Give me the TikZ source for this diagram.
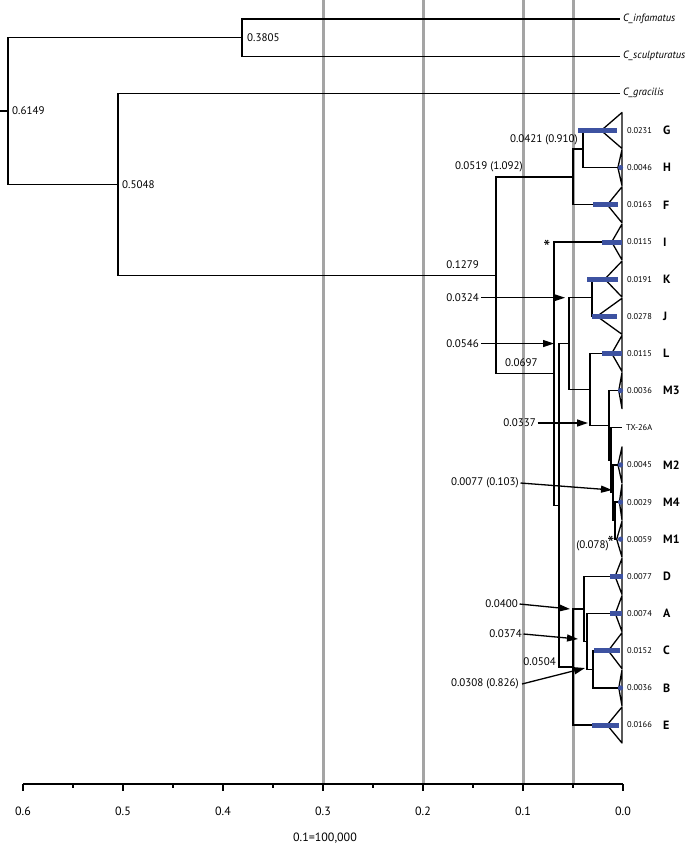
\documentclass[tikz,border=0pt]{standalone}
\usepackage{fontspec}
\setmainfont{PT Sans}
\usetikzlibrary{arrows.meta}
\definecolor{hpd}{HTML}{3D52A1}
\definecolor{gridgray}{HTML}{A4A4A4}
\begin{document}
\begin{tikzpicture}[x=1pt,y=-1pt,
  branch/.style={line width=1.3pt, black},
  pointer/.style={line width=1.3pt, black, -{Triangle[length=11pt,width=7pt]}},
  gridline/.style={line width=3pt, gridgray},
  hpdbar/.style={line width=5pt, hpd},
  tipval/.style={anchor=west, inner sep=0pt, font=\fontsize{8.4}{10}\selectfont},
  tiplet/.style={anchor=west, inner sep=0pt, font=\fontsize{12}{14}\selectfont\bfseries},
  intlab/.style={inner sep=0pt, font=\fontsize{11}{13}\selectfont},
  starlab/.style={inner sep=0pt, font=\fontsize{20}{22}\selectfont},
  sp/.style={anchor=west, inner sep=0pt, font=\fontsize{10.5}{12}\selectfont\itshape},
  axlab/.style={inner sep=0pt, font=\fontsize{12}{14}\selectfont}]
\useasboundingbox (0,0) rectangle (689,844);

% grey reference lines
\foreach \gx in {323,423,523,573} {
  \draw[gridline] (\gx,0) -- (\gx,784);
}

% axis
\coordinate (axL) at (23,784);
\coordinate (axR) at (623,784);
\draw[branch] (axL) -- (axR);
\foreach \tx/\tl in {23/0.6,123/0.5,223/0.4,323/0.3,423/0.2,523/0.1,623/0.0} {
  \draw[branch] (\tx,784) -- (\tx,791);
  \node[axlab] (ax\tl) at (\tx,811) {\tl};
}
\foreach \tx in {73,173,273,373,473,573} {
  \draw[branch] (\tx,784) -- (\tx,788);
}
\node[axlab] (scale) at (325,838) {0.1=100,000};

% internal nodes
\coordinate (rootstub) at (0,110.95);
\coordinate (root) at (8,110.95);
\coordinate (n3805) at (242,37.6);
\coordinate (n5048) at (118,184.3);
\coordinate (n1279) at (496,275.3);
\coordinate (n0519) at (573,176.95);
\coordinate (n0421) at (583,149.05);
\coordinate (n0697) at (554,373.6);
\coordinate (n064) at (559,505.25);
\coordinate (n0546) at (569,343.55);
\coordinate (nKJ) at (592,297.7);
\coordinate (n0337) at (590,389.4);
\coordinate (nM) at (609,425.45);
\coordinate (nTX) at (611,460.3);
\coordinate (nM2) at (613,492.8);
\coordinate (nM41) at (615,520.65);
\coordinate (n0504) at (573,666.95);
\coordinate (nD) at (584,608.9);
\coordinate (nA) at (587,641.45);
\coordinate (nCB) at (593,669.3);

% species tips
\coordinate (sInf) at (620,19);
\coordinate (sScul) at (620,56.2);
\coordinate (sGrac) at (620,93.3);
\coordinate (sTX) at (622,427.8);
\node[sp] (lInf) at (623,19) {C\_infamatus};
\node[sp] (lScul) at (623,56.2) {C\_sculpturatus};
\node[sp] (lGrac) at (623,93.3) {C\_gracilis};
\node[tipval] (lTX) at (626,427.8) {TX-26A};

% collapsed clades
\foreach \n/\ax/\y/\v in {G/601.2/130.5/0.0231, H/617.9/167.6/0.0046, F/607.3/204.8/0.0163,
  I/611.7/242/0.0115, K/604.8/279.1/0.0191, J/597/316.3/0.0278, L/611.7/353.4/0.0115,
  M3/618.8/390.6/0.0036, M2/618/464.9/0.0045, M4/619.4/502.1/0.0029, M1/616.7/539.2/0.0059,
  D/615.1/576.4/0.0077, A/615.3/613.6/0.0074, C/608.3/650.7/0.0152, B/618.8/687.9/0.0036,
  E/607.1/725/0.0166} {
  \coordinate (t\n) at (\ax,\y);
  \draw[branch, line join=round] (t\n) -- (622,\y-18) -- (622,\y+18) -- cycle;
  \node[tipval] (v\n) at (627,\y) {\v};
  \node[tiplet] (L\n) at (663,\y) {\n};
}

% branches
\draw[branch] (rootstub) -- (root);
\draw[branch] (root) |- (n3805) (root) |- (n5048);
\draw[branch] (n3805) |- (sInf) (n3805) |- (sScul);
\draw[branch] (n5048) |- (sGrac) (n5048) |- (n1279);
\draw[branch] (n1279) |- (n0519) (n1279) |- (n0697);
\draw[branch] (n0519) |- (n0421) (n0519) |- (tF);
\draw[branch] (n0421) |- (tG) (n0421) |- (tH);
\draw[branch] (n0697) |- (tI) (n0697) |- (n064);
\draw[branch] (n064) |- (n0546) (n064) |- (n0504);
\draw[branch] (n0546) |- (nKJ) (n0546) |- (n0337);
\draw[branch] (nKJ) |- (tK) (nKJ) |- (tJ);
\draw[branch] (n0337) |- (tL) (n0337) |- (nM);
\draw[branch] (nM) |- (tM3) (nM) |- (nTX);
\draw[branch] (nTX) |- (sTX) (nTX) |- (nM2);
\draw[branch] (nM2) |- (tM2) (nM2) |- (nM41);
\draw[branch] (nM41) |- (tM4) (nM41) |- (tM1);
\draw[branch] (n0504) |- (nD) (n0504) |- (tE);
\draw[branch] (nD) |- (tD) (nD) |- (nA);
\draw[branch] (nA) |- (tA) (nA) |- (nCB);
\draw[branch] (nCB) |- (tC) (nCB) |- (tB);

% HPD bars
\foreach \n/\xa/\xb in {G/578/617, F/593/618, I/602/622, K/587/618, J/592/617, L/602/622,
  D/610/623, A/610/622, C/594/620, E/592/619} {
  \draw[hpdbar] (\xa,0 |- t\n) -- (\xb,0 |- t\n);
}
\foreach \n in {H,M3,M2,M4,M1,B} {
  \fill[hpd] (620.5,0 |- t\n) circle (2.6);
}

% node labels
\node[intlab, anchor=west] (l6149) at (12,110.95) {0.6149};
\node[intlab, anchor=west] (l3805) at (247,37.6) {0.3805};
\node[intlab, anchor=west] (l5048) at (122,184.3) {0.5048};
\node[intlab, anchor=east] (l0421) at (578,140) {0.0421 (0.910)};
\node[intlab, anchor=east] (l0519) at (523,167) {0.0519 (1.092)};
\node[intlab, anchor=east] (l1279) at (479,265) {0.1279};
\node[intlab, anchor=west] (l0697) at (505,363) {0.0697};
\node[intlab, anchor=east] (l0504) at (556,662) {0.0504};
\node[starlab] (starI) at (547,247) {*};
\node[starlab] (starM1) at (611,543) {*};
\node[intlab, anchor=east] (l0078) at (609,546) {(0.078)};

% pointer labels
\node[intlab, anchor=east] (l0324) at (479,297.7) {0.0324};
\node[intlab, anchor=east] (l0546) at (479,343.55) {0.0546};
\node[intlab, anchor=east] (l0337) at (536,423) {0.0337};
\node[intlab, anchor=east] (l0077) at (519,483) {0.0077 (0.103)};
\node[intlab, anchor=east] (l0400) at (518,604) {0.0400};
\node[intlab, anchor=east] (l0374) at (522,634) {0.0374};
\node[intlab, anchor=east] (l0308) at (519,684) {0.0308 (0.826)};
\coordinate (e0324) at (565,297.7);
\coordinate (e0546) at (554,343.55);
\coordinate (e0337) at (588,423);
\coordinate (e0077) at (612,490);
\coordinate (e0400) at (570,609);
\coordinate (e0374) at (578,639);
\coordinate (e0308) at (585,668);
\draw[pointer] ([xshift=2pt]l0324.east) -- (e0324);
\draw[pointer] ([xshift=2pt]l0546.east) -- (e0546);
\draw[pointer] ([xshift=1.5pt]l0337.east) -- (e0337);
\draw[pointer] ([xshift=1.5pt]l0077.east) -- (e0077);
\draw[pointer] ([xshift=1.5pt]l0400.east) -- (e0400);
\draw[pointer] ([xshift=1.5pt]l0374.east) -- (e0374);
\draw[pointer] ([xshift=3pt]l0308.east) -- (e0308);
\end{tikzpicture}
\end{document}
